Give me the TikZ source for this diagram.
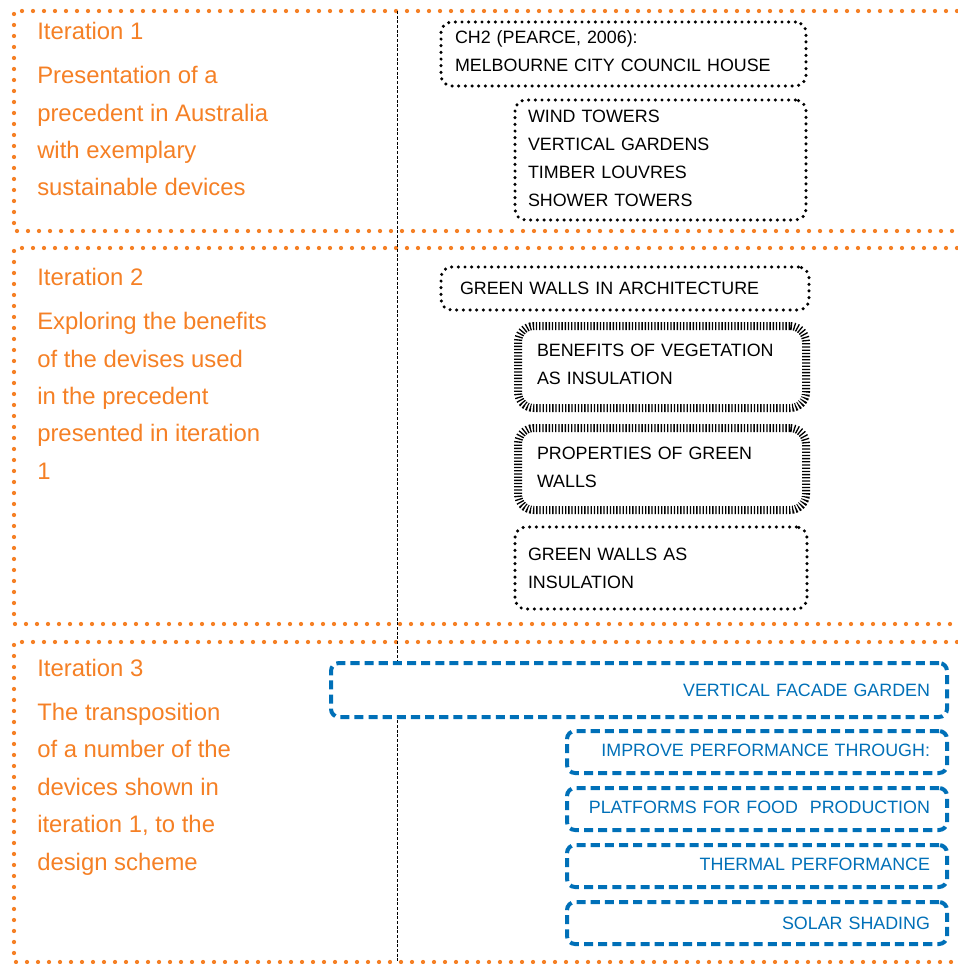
\documentclass[tikz,border=0pt]{standalone}
\usepackage{fontspec}
\setmainfont{Liberation Sans}
\usetikzlibrary{positioning}
\definecolor{iterorange}{RGB}{245,128,37}
\definecolor{designblue}{RGB}{0,112,184}
\def\px{0.75pt}
\tikzset{
    %Define style for the iteration frames
    frame/.style={
           draw=iterorange,
           line width=3.2pt,
           line cap=round,
           dash pattern=on 0pt off 8.25pt},
    divider/.style={
           draw=black,
           line width=0.7pt,
           dash pattern=on 2.2pt off 1.3pt},
    %Define style for the orange texts
    title/.style={
           anchor=base west,
           inner sep=0pt,
           text=iterorange,
           font=\fontsize{17.9}{28.1}\selectfont},
    summary/.style={
           title,
           anchor=north west,
           align=left},
    %Define style for boxes
    source/.style={
           rectangle,
           rounded corners=8pt,
           draw=black,
           line width=2.6pt,
           line cap=round,
           dash pattern=on 0pt off 5pt,
           fill=white,
           outer sep=0pt,
           inner ysep=0pt,
           align=left,
           font=\fontsize{13.4}{21}\selectfont},
    theme/.style={
           source,
           rounded corners=12pt,
           line cap=butt,
           line width=6pt,
           dash pattern=on 1pt off 1.4pt},
    design/.style={
           rectangle,
           rounded corners=6pt,
           draw=designblue,
           line width=3pt,
           dash pattern=on 6.8pt off 3.8pt,
           fill=white,
           outer sep=0pt,
           inner xsep=17*\px,
           inner ysep=0pt,
           text=designblue,
           align=right,
           font=\fontsize{13.4}{21}\selectfont}
}
\begin{document}
\begin{tikzpicture}[x=0.75pt,y=-0.75pt]
\useasboundingbox (0,0) rectangle (957,964);

 %frames
\draw[frame] (957,11) -- (14,11) -- (14,231) -- (957,231);
\draw[frame] (957,248) -- (14,248) -- (14,624) -- (957,624);
\draw[frame] (957,642) -- (14,642) -- (14,962) -- (957,962);
\draw[divider] (397,11) -- (397,962);

 %iteration 1
\node[title] (t1) at (37,39) {Iteration 1};
\node[summary] (s1) at (37,66) {Presentation of a\\precedent in Australia\\with exemplary\\sustainable devices};
\node[source, anchor=north west, minimum height=64*\px, inner xsep=14*\px,
  text depth=26.2pt, text width=337*\px] (ch2) at (441,22) {CH2 (PEARCE, 2006):\\MELBOURNE CITY COUNCIL HOUSE};
\node[source, anchor=north west, minimum height=120*\px, inner xsep=13*\px,
  text depth=66pt, text width=265*\px] (dev) at (515,100) {WIND TOWERS\\VERTICAL GARDENS\\TIMBER LOUVRES\\SHOWER TOWERS};

 %iteration 2
\node[title] (t2) at (37,285) {Iteration 2};
\node[summary] (s2) at (37,312) {Exploring the benefits\\of the devises used\\in the precedent\\presented in iteration\\1};
\node[source, anchor=north west, minimum height=43*\px, inner xsep=19*\px,
  text width=330*\px] (gw) at (441,267) {GREEN WALLS IN ARCHITECTURE};
\node[theme, anchor=north west, minimum height=82*\px, inner xsep=19*\px,
  text depth=25.5pt, text width=250*\px] (ben) at (518,326) {BENEFITS OF VEGETATION\\AS INSULATION};
\node[theme, below=20*\px of ben, minimum height=82*\px, inner xsep=19*\px,
  text depth=24pt, text width=250*\px] (prop) {PROPERTIES OF GREEN\\WALLS};
\node[source, anchor=north west, minimum height=82*\px, inner xsep=13*\px,
  text width=266*\px] (ins) at (515,527) {GREEN WALLS AS\\INSULATION};

 %iteration 3
\node[title] (t3) at (37,676) {Iteration 3};
\node[summary] (s3) at (37,702.6) {The transposition\\of a number of the\\devices shown in\\iteration 1, to the\\design scheme};
\node[design, anchor=north west, minimum height=54*\px,
  text width=582*\px] (vfg) at (331,663) {VERTICAL FACADE GARDEN};
\node[design, anchor=north west, minimum height=42*\px, text depth=3pt,
  text width=346*\px] (imp) at (567,731) {IMPROVE PERFORMANCE THROUGH:};
\node[design, below=15*\px of imp, minimum height=42*\px, text depth=3pt,
  text width=346*\px] (food) {PLATFORMS FOR FOOD\ \ PRODUCTION};
\node[design, below=15*\px of food, minimum height=42*\px, text depth=3pt,
  text width=346*\px] (therm) {THERMAL PERFORMANCE};
\node[design, below=15*\px of therm, minimum height=42*\px,
  text width=346*\px] (solar) {SOLAR SHADING};

\end{tikzpicture}
\end{document}
